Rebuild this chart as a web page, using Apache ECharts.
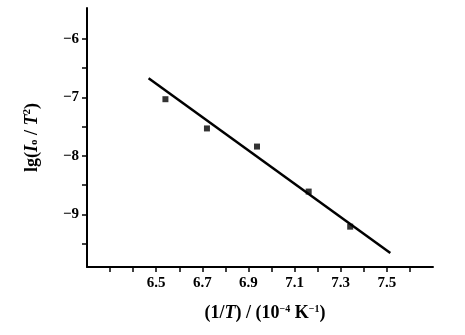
<!DOCTYPE html>
<html><head><meta charset="utf-8">
<script src="https://cdn.jsdelivr.net/npm/echarts@6/dist/echarts.min.js"></script>
<style>html,body{margin:0;padding:0;background:#fff}#c{width:465px;height:335px}</style>
</head><body><div id="c"></div>
<script>
var xPoints = [6.54, 6.72, 6.937, 7.161, 7.341];
var yPoints = [-7.03, -7.53, -7.84, -8.61, -9.21];
var fitX = [6.467, 7.515];
var fitY = [-6.67, -9.66];
var xTickValues = [6.3, 6.4, 6.5, 6.6, 6.7, 6.8, 6.9, 7.0, 7.1, 7.2, 7.3, 7.4, 7.5, 7.6];
var xLabelValues = [6.5, 6.7, 6.9, 7.1, 7.3, 7.5];
var yTickValues = [-9.5, -9, -8.5, -8, -7.5, -7, -6.5, -6];
var yLabelValues = [-9, -8, -7, -6];

var font = '"Liberation Serif", "DejaVu Serif", serif';
var chart = echarts.init(document.getElementById('c'));
chart.setOption({
  animation: false,
  grid: {left: 87, right: 32, top: 8, bottom: 68},
  xAxis: {
    type: 'value', min: 6.2, max: 7.7,
    axisLine: {show: true, lineStyle: {color: '#000', width: 2}},
    axisTick: {show: true, inside: false, length: 5, customValues: xTickValues, lineStyle: {color: '#000', width: 1.5}},
    axisLabel: {customValues: xLabelValues, color: '#000', fontFamily: font, fontSize: 15, fontWeight: 'bold', margin: 9,
      formatter: function (v) { return v.toFixed(1); }},
    splitLine: {show: false},
    name: '{a|(1/}{i|T}{a|) / (10}{s|−4}{a| K}{s|−1}{a|)}',
    nameLocation: 'middle', nameGap: 37,
    nameTextStyle: {
      padding: [0, 0, 0, 10],
      rich: {
        a: {fontFamily: font, fontSize: 18, fontWeight: 'bold', color: '#000'},
        i: {fontFamily: font, fontSize: 18, fontWeight: 'bold', fontStyle: 'italic', color: '#000'},
        s: {fontFamily: font, fontSize: 10, fontWeight: 'bold', color: '#000', padding: [0, 0, 9, 0]}
      }
    }
  },
  yAxis: {
    type: 'value', min: -9.9, max: -5.47,
    axisLine: {show: true, lineStyle: {color: '#000', width: 2}},
    axisTick: {show: true, inside: false, length: 5, customValues: yTickValues, lineStyle: {color: '#000', width: 1.5}},
    axisLabel: {customValues: yLabelValues, color: '#000', fontFamily: font, fontSize: 15, fontWeight: 'bold', margin: 8,
      formatter: function (v) { return '−' + Math.abs(v); }},
    splitLine: {show: false},
    name: '{a|lg(}{i|I}{s|o}{a| / }{i|T}{p|2}{a|)}',
    nameLocation: 'middle', nameGap: 45,
    nameTextStyle: {
      rich: {
        a: {fontFamily: font, fontSize: 18, fontWeight: 'bold', color: '#000'},
        i: {fontFamily: font, fontSize: 18, fontWeight: 'bold', fontStyle: 'italic', color: '#000'},
        s: {fontFamily: font, fontSize: 11, fontWeight: 'bold', color: '#000', padding: [5, 0, 0, 0]},
        p: {fontFamily: font, fontSize: 11, fontWeight: 'bold', color: '#000', padding: [0, 0, 9, 0]}
      }
    }
  },
  series: [
    {type: 'line', data: fitX.map(function (x, i) { return [x, fitY[i]]; }),
      symbol: 'none', lineStyle: {color: '#000', width: 2.5}, silent: true},
    {type: 'scatter', data: xPoints.map(function (x, i) { return [x, yPoints[i]]; }),
      symbol: 'rect', symbolSize: 6, itemStyle: {color: '#000'}}
  ]
});
</script></body></html>
